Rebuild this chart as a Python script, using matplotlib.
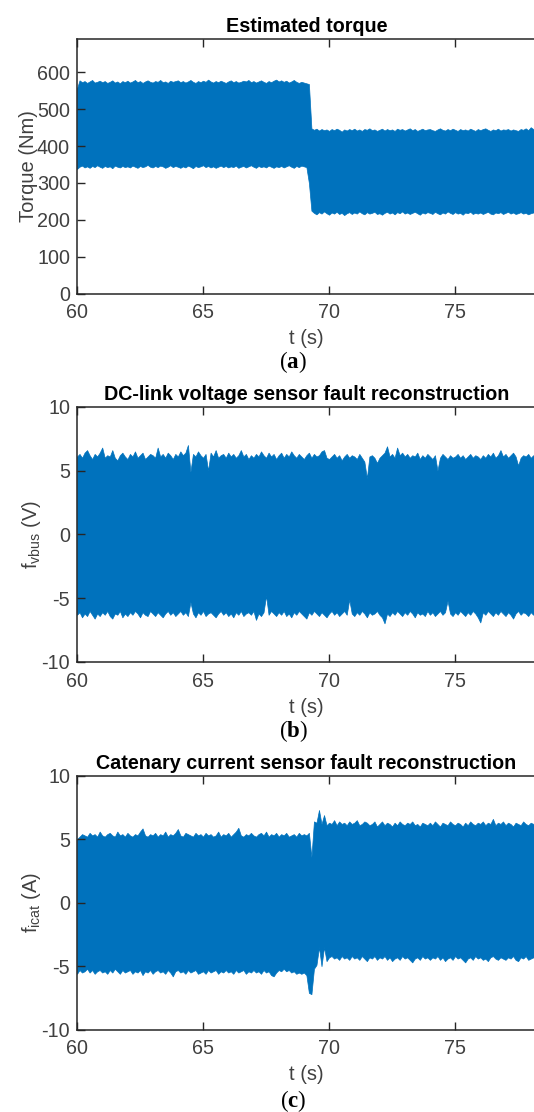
import numpy as np
import matplotlib
matplotlib.use("Agg")
import matplotlib.pyplot as plt

plt.rcParams['font.family'] = ['Liberation Sans', 'DejaVu Sans']
plt.rcParams['mathtext.fontset'] = 'custom'
plt.rcParams['mathtext.rm'] = 'Liberation Sans'
plt.rcParams['mathtext.it'] = 'Liberation Sans:italic'
plt.rcParams['mathtext.bf'] = 'Liberation Serif:bold'
plt.rcParams['axes.unicode_minus'] = False

# ---------------- data: upper/lower envelopes, 0.1 s sampling ----------------
t_start = 60.0
t_step = 0.1

torque_upper = [
    556, 578, 573, 576, 571, 575, 579, 572, 574, 577,   # 60
    573, 576, 571, 574, 578, 572, 575, 570, 576, 573,   # 61
    577, 572, 575, 579, 573, 576, 571, 575, 578, 574,   # 62
    572, 576, 574, 579, 573, 575, 571, 577, 574, 576,   # 63
    578, 573, 576, 572, 575, 579, 574, 571, 576, 573,   # 64
    577, 574, 580, 575, 572, 576, 573, 577, 574, 571,   # 65
    575, 578, 573, 576, 572, 574, 577, 575, 579, 573,   # 66
    576, 572, 575, 578, 574, 571, 576, 573, 577, 580,   # 67
    575, 578, 574, 577, 572, 575, 579, 574, 571, 574,   # 68
    572, 570, 568, 448, 444, 447, 442, 446, 443, 445,   # 69
    441, 446, 443, 447, 444, 439, 445, 442, 446, 443,   # 70
    447, 442, 445, 441, 446, 444, 448, 443, 445, 441,   # 71
    444, 447, 442, 446, 443, 445, 441, 447, 444, 446,   # 72
    442, 445, 448, 443, 446, 441, 444, 447, 443, 445,   # 73
    446, 443, 441, 445, 448, 444, 442, 446, 443, 447,   # 74
    444, 441, 446, 443, 445, 442, 447, 444, 441, 446,   # 75
    443, 446, 448, 444, 441, 445, 443, 447, 442, 445,   # 76
    444, 446, 442, 445, 443, 441, 446, 444, 448, 443,   # 77
    451, 446, 449]                                      # 78
torque_lower = [
    338, 344, 347, 342, 345, 341, 346, 343, 348, 344,
    341, 346, 343, 345, 340, 347, 344, 342, 346, 343,
    345, 342, 347, 344, 341, 346, 343, 345, 349, 344,
    342, 346, 343, 347, 345, 341, 344, 348, 343, 346,
    344, 341, 345, 342, 347, 344, 340, 346, 343, 345,
    348, 343, 346, 342, 345, 341, 344, 347, 343, 346,
    342, 345, 343, 347, 341, 344, 346, 342, 345, 348,
    344, 341, 346, 343, 345, 342, 347, 344, 341, 345,
    343, 346, 342, 345, 348, 344, 341, 346, 343, 347,
    345, 343, 300, 225, 219, 215, 221, 217, 223, 218,
    214, 220, 217, 222, 216, 219, 213, 218, 221, 216,
    220, 217, 223, 218, 215, 221, 217, 219, 222, 216,
    218, 214, 219, 222, 217, 220, 215, 221, 218, 223,
    217, 220, 216, 219, 222, 218, 214, 220, 217, 221,
    219, 216, 222, 218, 215, 220, 217, 223, 219, 216,
    221, 217, 219, 214, 220, 218, 222, 216, 219, 217,
    220, 216, 219, 222, 217, 215, 220, 218, 221, 216,
    219, 222, 217, 220, 216, 218, 221, 217, 219, 215,
    218, 220, 217]

vbus_upper = [
    6.1, 6.3, 6.0, 6.4, 6.6, 6.2, 5.9, 6.3, 6.1, 6.4,
    6.8, 6.0, 6.2, 6.1, 6.6, 6.0, 5.8, 6.2, 6.4, 6.1,
    5.9, 6.3, 6.1, 6.5, 6.0, 6.2, 6.4, 5.9, 6.1, 6.3,
    6.2, 6.0, 6.8, 6.1, 6.3, 6.0, 6.4, 6.2, 5.9, 6.3,
    6.1, 6.5, 6.2, 6.4, 7.0, 4.9, 6.3, 6.1, 6.5, 6.2,
    6.0, 6.3, 5.0, 6.4, 6.1, 6.6, 6.0, 6.2, 6.3, 6.0,
    6.4, 6.1, 6.3, 6.0, 6.2, 6.6, 6.1, 6.3, 5.9, 6.2,
    6.0, 6.3, 6.1, 6.5, 6.2, 6.0, 6.4, 6.1, 6.3, 5.9,
    6.2, 6.4, 6.0, 6.3, 6.1, 6.5, 6.2, 6.0, 6.3, 6.1,
    5.9, 6.2, 6.4, 6.0, 6.3, 6.1, 6.2, 6.5, 6.6, 6.0,
    5.9, 6.1, 6.3, 6.0, 6.2, 5.8, 6.1, 6.3, 6.0, 6.2,
    6.1, 5.9, 6.3, 6.0, 5.7, 4.4, 6.1, 6.2, 6.0, 5.6,
    6.0, 6.2, 6.4, 6.9, 6.1, 6.3, 6.0, 6.8, 6.2, 6.4,
    6.1, 6.3, 6.0, 6.2, 6.1, 6.4, 5.9, 6.2, 6.0, 6.3,
    6.1, 5.9, 6.2, 5.0, 6.0, 6.3, 6.1, 5.9, 6.2, 6.0,
    6.1, 6.3, 6.0, 6.2, 5.9, 6.1, 6.3, 6.0, 6.2, 6.1,
    5.9, 6.2, 6.0, 6.3, 6.1, 6.4, 6.0, 6.2, 6.6, 6.1,
    6.3, 6.0, 6.2, 6.4, 6.1, 5.4, 6.0, 6.2, 6.1, 6.3,
    6.0, 6.2, 6.1]
vbus_lower = [
    -6.3, -6.1, -6.5, -6.2, -6.4, -6.0, -6.3, -6.6, -6.2, -6.4,
    -6.1, -6.3, -6.0, -6.4, -6.6, -6.2, -6.3, -6.0, -6.5, -6.2,
    -6.4, -6.1, -6.3, -6.0, -6.2, -6.5, -6.1, -6.3, -6.4, -6.0,
    -6.2, -6.4, -6.1, -6.3, -6.5, -6.2, -6.0, -6.3, -6.1, -6.4,
    -6.2, -6.0, -6.3, -6.1, -6.4, -5.3, -6.2, -6.5, -6.1, -6.3,
    -6.0, -6.4, -6.2, -6.1, -6.3, -6.5, -6.2, -6.0, -6.3, -6.1,
    -6.4, -6.2, -6.5, -6.1, -6.3, -6.0, -6.4, -6.2, -6.1, -6.3,
    -6.0, -6.7, -6.2, -6.4, -6.1, -4.8, -6.3, -6.0, -6.2, -6.4,
    -6.1, -6.3, -6.0, -6.4, -6.2, -6.5, -6.1, -6.3, -6.0, -6.2,
    -6.4, -6.6, -6.1, -6.3, -6.0, -6.2, -6.4, -6.1, -6.3, -6.5,
    -6.2, -6.0, -6.3, -6.1, -6.4, -6.2, -6.0, -6.3, -5.1, -6.2,
    -6.4, -6.1, -6.3, -6.0, -6.2, -6.5, -6.1, -6.3, -6.2, -6.0,
    -6.3, -6.5, -6.97, -6.2, -6.4, -6.1, -6.3, -6.0, -6.2, -6.4,
    -6.1, -6.3, -6.0, -6.2, -6.5, -6.1, -6.3, -6.2, -6.4, -6.0,
    -6.3, -6.1, -6.4, -6.2, -6.0, -6.3, -6.1, -5.2, -6.2, -6.4,
    -6.1, -6.3, -6.0, -6.2, -6.4, -6.1, -6.3, -6.0, -6.2, -6.5,
    -6.9, -6.1, -6.3, -6.0, -6.2, -6.4, -6.1, -6.3, -6.0, -6.2,
    -6.4, -6.1, -6.3, -6.6, -6.2, -6.0, -6.3, -6.1, -6.2, -6.4,
    -6.1, -6.3, -6.0]

icat_upper = [
    5.0, 5.2, 5.4, 5.3, 5.2, 5.5, 5.3, 5.4, 5.2, 5.6,
    5.3, 5.2, 5.4, 5.5, 5.3, 5.2, 5.6, 5.3, 5.4, 5.2,
    5.5, 5.3, 5.2, 5.4, 5.3, 5.6, 5.85, 5.3, 5.2, 5.4,
    5.3, 5.5, 5.2, 5.4, 5.3, 5.6, 5.2, 5.4, 5.3, 5.5,
    5.8, 5.3, 5.2, 5.5, 5.4, 5.3, 5.2, 5.5, 5.3, 5.4,
    5.2, 5.5, 5.3, 5.4, 5.2, 5.3, 5.6, 5.2, 5.4, 5.3,
    5.5, 5.2, 5.4, 5.6, 5.9, 5.3, 5.2, 5.4, 5.3, 5.5,
    5.3, 5.2, 5.4, 5.5, 5.3, 5.6, 5.2, 5.4, 5.3, 5.5,
    5.2, 5.4, 5.3, 5.5, 5.2, 5.3, 5.4, 5.2, 5.5, 5.3,
    5.4, 5.3, 5.5, 3.6, 6.4, 6.3, 7.3, 6.2, 6.9, 6.1,
    6.3, 6.2, 6.5, 6.1, 6.4, 6.2, 6.3, 6.1, 6.4, 6.2,
    6.3, 6.5, 6.1, 6.2, 6.4, 6.3, 6.1, 6.2, 6.4, 6.0,
    6.2, 6.4, 6.1, 6.3, 6.2, 6.0, 6.3, 6.1, 6.4, 6.2,
    6.1, 6.3, 6.2, 6.4, 6.1, 6.2, 6.0, 6.3, 6.2, 6.1,
    6.3, 6.1, 6.4, 6.2, 6.0, 6.3, 6.2, 6.1, 6.4, 6.2,
    6.1, 6.3, 6.2, 6.0, 6.3, 6.1, 6.4, 6.2, 6.1, 6.3,
    6.2, 6.4, 6.1, 6.3, 6.2, 6.6, 6.1, 6.3, 6.2, 6.4,
    6.1, 6.3, 6.2, 6.0, 6.3, 6.2, 6.1, 6.4, 6.2, 6.1,
    6.3, 6.2, 6.4]
icat_lower = [
    -5.6, -5.3, -5.5, -5.4, -5.2, -5.5, -5.3, -5.6, -5.4, -5.3,
    -5.5, -5.4, -5.6, -5.3, -5.5, -5.2, -5.4, -5.6, -5.3, -5.5,
    -5.4, -5.3, -5.6, -5.4, -5.5, -5.3, -5.7, -5.4, -5.5, -5.3,
    -5.6, -5.4, -5.3, -5.5, -5.4, -5.6, -5.3, -5.5, -5.8, -5.4,
    -5.3, -5.5, -5.4, -5.6, -5.3, -5.5, -5.4, -5.3, -5.6, -5.5,
    -5.4, -5.6, -5.3, -5.5, -5.4, -5.3, -5.6, -5.4, -5.5, -5.3,
    -5.5, -5.4, -5.6, -5.3, -5.5, -5.4, -5.3, -5.6, -5.4, -5.5,
    -5.3, -5.5, -5.4, -5.6, -5.3, -5.5, -5.4, -5.7, -5.8, -5.5,
    -5.3, -5.4, -5.2, -5.4, -5.3, -5.5, -5.4, -5.6, -5.5, -5.6,
    -5.5, -5.7, -7.1, -7.2, -5.2, -4.9, -3.5, -5.0, -3.5, -4.6,
    -4.3, -4.2, -4.4, -4.3, -4.5, -4.2, -4.4, -4.3, -4.5, -4.2,
    -4.4, -4.3, -4.5, -4.2, -4.4, -4.6, -4.3, -4.4, -4.2, -4.5,
    -4.3, -4.4, -4.2, -4.5, -4.3, -4.6, -4.4, -4.3, -4.5, -4.2,
    -4.4, -4.3, -4.5, -4.7, -4.4, -4.3, -4.5, -4.2, -4.4, -4.3,
    -4.5, -4.3, -4.4, -4.2, -4.5, -4.3, -4.6, -4.4, -4.3, -4.5,
    -4.2, -4.4, -4.3, -4.5, -4.7, -4.4, -4.3, -4.5, -4.2, -4.4,
    -4.3, -4.5, -4.4, -4.6, -4.3, -4.2, -4.4, -4.5, -4.3, -4.4,
    -4.5, -4.3, -4.4, -4.2, -4.5, -4.6, -4.3, -4.4, -4.2, -4.5,
    -4.4, -4.3, -4.5]

titles = ["Estimated torque",
          "DC-link voltage sensor fault reconstruction",
          "Catenary current sensor fault reconstruction"]
ylabels = ["Torque (Nm)", r"f$_{\mathrm{vbus}}$ (V)", r"f$_{\mathrm{icat}}$ (A)"]
panel_tags = [r"($\mathbf{a}$)", r"($\mathbf{b}$)", r"($\mathbf{c}$)"]
ylims = [(0, 690), (-10, 10), (-10, 10)]
yticks = [[0, 100, 200, 300, 400, 500, 600], [-10, -5, 0, 5, 10], [-10, -5, 0, 5, 10]]
xticks = [60, 65, 70, 75]
xlim = (60, 78.19)

series = [(torque_lower, torque_upper), (vbus_lower, vbus_upper), (icat_lower, icat_upper)]

# ---------------- figure ----------------
W, H = 534, 1112
fig = plt.figure(figsize=(W / 100, H / 100), dpi=100)
blue = '#0072BD'
dark = '#262626'
gray = '#404040'

# axes boxes in pixels: (top, bottom)
boxes = [(39, 293.7), (406.7, 662), (775.7, 1029.7)]
left_px, right_px = 77, 535.5
tag_y = [362, 731.5, 1101]

for i, ((top, bot), (lo, up)) in enumerate(zip(boxes, series)):
    ax = fig.add_axes([left_px / W, 1 - bot / H, (right_px - left_px) / W, (bot - top) / H])
    n = len(up)
    assert len(lo) == n, (i, len(lo), n)
    t = t_start + t_step * np.arange(n)
    ax.fill_between(t, lo, up, color=blue, lw=0.5, edgecolor=blue)
    ax.set_xlim(*xlim)
    ax.set_ylim(*ylims[i])
    ax.set_xticks(xticks)
    ax.set_yticks(yticks[i])
    ax.tick_params(direction='in', length=6, width=1.0, colors=dark, labelcolor=gray,
                   labelsize=14.2, top=True, right=False)
    ax.tick_params(axis='x', pad=7)
    ax.tick_params(axis='y', pad=5)
    for s in ax.spines.values():
        s.set_linewidth(1.1)
        s.set_color(dark)
    ax.set_title(titles[i], fontsize=14.2, fontweight='bold', color='black', pad=5)
    ax.set_xlabel("t (s)", fontsize=14.5, color=gray, labelpad=5)
    ax.set_ylabel(ylabels[i], fontsize=14.5, color=gray, labelpad=-1)
    fig.text(293 / W, 1 - tag_y[i] / H, panel_tags[i], ha='center', va='center',
             fontsize=16.5, family='Liberation Serif')

fig.savefig("out.png", dpi=100)
